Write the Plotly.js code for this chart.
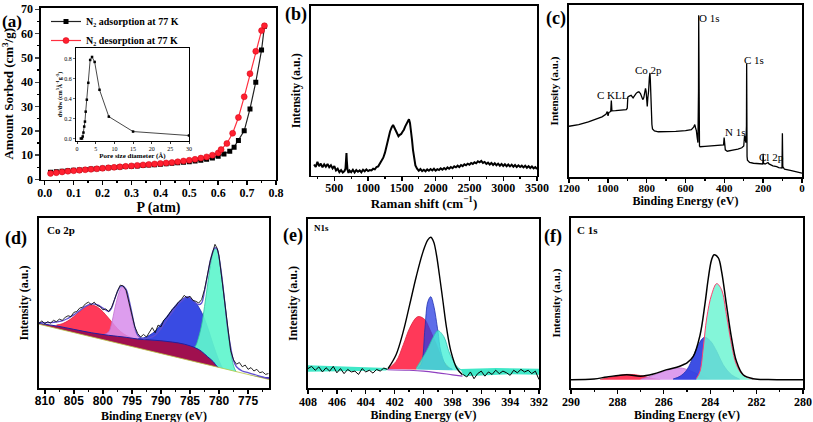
<!DOCTYPE html>
<html><head><meta charset="utf-8">
<script src="https://cdn.plot.ly/plotly-3.0.1.min.js"></script>
<style>html,body{margin:0;padding:0;background:#fff}#chart{width:813px;height:422px}</style>
</head><body><div id="chart"></div>
<script>
// ---------- (a) N2 isotherm ----------
const ads_P = [0.02,0.04,0.06,0.08,0.10,0.12,0.14,0.16,0.18,0.20,0.22,0.24,0.26,0.28,0.30,0.32,0.34,0.36,0.38,0.40,0.42,0.44,0.46,0.48,0.50,0.52,0.54,0.56,0.58,0.60,0.62,0.64,0.655,0.67,0.69,0.71,0.73,0.75,0.76];
const ads_V = [3.0,3.2,3.4,3.6,3.8,3.9,4.1,4.3,4.4,4.6,4.8,4.9,5.1,5.3,5.4,5.6,5.8,6.0,6.1,6.3,6.5,6.7,6.9,7.1,7.3,7.6,7.9,8.3,8.8,9.6,10.5,11.6,13.3,16.0,20.0,29.0,40.0,53.2,63.0];
const des_P = [0.02,0.04,0.06,0.08,0.10,0.12,0.14,0.16,0.18,0.20,0.22,0.24,0.26,0.28,0.30,0.32,0.34,0.36,0.38,0.40,0.42,0.44,0.46,0.48,0.50,0.52,0.54,0.56,0.58,0.60,0.61,0.63,0.65,0.67,0.69,0.71,0.73,0.75,0.76];
const des_V = [2.5,2.8,3.1,3.4,3.6,3.8,4.0,4.2,4.4,4.6,4.8,5.0,5.2,5.4,5.6,5.8,6.0,6.2,6.4,6.6,6.8,7.0,7.3,7.6,7.9,8.3,8.8,9.3,10.0,10.9,12.3,14.8,19.0,25.5,34.0,43.5,52.7,61.2,63.2];
// inset pore size distribution
const pore_d = [1.0,1.3,1.5,1.7,1.9,2.1,2.3,2.6,3.0,3.5,4.0,4.7,6.0,8.5,15.0,30.0];
const pore_v = [0.0,0.0,0.02,0.06,0.12,0.17,0.27,0.39,0.56,0.79,0.82,0.77,0.49,0.22,0.07,0.03];

// ---------- (b) Raman ----------
const raman_x = [200,225,250,275,300,325,350,375,400,425,450,475,500,525,550,575,600,625,650,665,675,680,685,695,710,725,750,775,800,825,850,875,900,925,950,975,1000,1025,1050,1075,1100,1125,1150,1175,1200,1225,1250,1275,1300,1325,1350,1370,1390,1410,1430,1450,1470,1490,1510,1530,1550,1570,1590,1605,1620,1635,1650,1665,1680,1700,1725,1750,1775,1800,1825,1850,1875,1900,1925,1950,1975,2000,2025,2050,2075,2100,2125,2150,2175,2200,2225,2250,2275,2300,2325,2350,2375,2400,2425,2450,2475,2500,2525,2550,2575,2600,2625,2650,2675,2700,2725,2750,2775,2800,2825,2850,2875,2900,2925,2950,2975,3000,3025,3050,3075,3100,3125,3150,3175,3200,3225,3250,3275,3300,3325,3350,3375,3400,3425,3450,3475,3500];
const raman_y = [6.5,5.0,8.0,5.5,7.0,4.8,6.6,5.2,6.8,4.9,6.0,4.2,5.5,3.0,4.0,2.0,3.2,1.8,2.6,4.0,10.0,13.2,9.0,3.5,1.5,3.0,2.0,3.4,1.8,3.2,2.2,3.0,1.9,3.4,2.5,3.6,2.6,3.2,3.0,4.0,3.6,5.0,5.4,7.0,8.2,10.5,13.5,18.0,22.5,26.0,28.5,29.8,28.2,26.5,24.8,23.2,24.0,24.5,25.8,27.0,29.0,30.5,32.0,33.2,31.0,27.0,21.0,15.0,10.0,6.0,4.0,2.8,3.8,2.6,3.4,2.5,3.6,2.8,3.8,3.0,4.0,2.9,3.7,3.2,4.2,3.4,4.4,3.6,4.8,4.0,5.0,4.3,5.4,4.8,5.8,5.0,6.2,5.5,6.6,6.0,7.0,6.4,7.4,6.8,7.8,7.2,8.4,7.8,8.6,7.4,8.0,6.8,7.6,6.5,7.4,6.2,7.2,6.0,7.0,5.8,6.8,5.6,6.6,5.5,6.5,5.4,6.4,5.2,6.2,5.0,6.0,5.0,5.8,4.8,5.8,4.6,5.5,4.4,5.3,4.2,5.0,3.8];

// ---------- (c) XPS survey ----------
const surv_E = [1200,1150,1100,1060,1030,1010,1003,999,995,990,985,982,979,960,930,905,900,897,890,880,870,862,855,848,840,832,826,820,815,810,806,803,800,797,794,790,786,783,781,779,776,773,770,760,740,700,650,600,570,558,552,548,544,540,536,533,532,530,528,525,500,460,420,404,401,399,395,385,370,350,330,310,300,296,292,289,286,285,284,283,281,270,250,220,202,200,198,190,180,175,170,150,130,120,103,101,99,90,60,30,10,0];
const surv_I = [29.5,30.5,32.0,33.5,35.0,36.5,38.0,35.5,37.5,37.8,38.2,44.5,38.5,38.6,38.8,39.2,40.0,46.5,47.0,47.5,46.0,47.8,48.5,49.2,49.5,48.5,46.5,45.0,46.0,49.0,51.5,50.0,44.0,41.0,46.0,50.0,58.0,60.5,56.0,45.0,36.0,30.5,28.0,26.8,26.3,26.2,26.5,27.0,27.5,29.0,30.5,28.5,27.0,23.0,20.0,50.0,94.0,55.0,18.0,17.6,17.8,18.0,18.2,18.6,23.0,18.0,15.8,15.0,15.2,15.8,16.2,17.0,18.0,24.0,22.0,20.0,30.0,66.0,40.0,12.0,9.8,8.5,8.0,7.8,7.6,13.5,8.0,7.5,7.8,8.4,7.6,6.5,6.0,5.5,5.2,25.5,6.0,4.5,3.8,3.0,2.5,2.2];

// ---------- (d) Co 2p ----------
const co_raw_E = [811,810.5,810,809.5,809,808.5,808,807.5,807,806.5,806,805.5,805,804.5,804,803.5,803,802.5,802,801.5,801,800.5,800,799.5,799,798.5,798,797.5,797,796.5,796,795.5,795,794.5,794,793.5,793,792.5,792,791.5,791,790.5,790,789.5,789,788.5,788,787.5,787,786.5,786,785.5,785,784.5,784,783.5,783,782.5,782,781.5,781,780.7,780.3,780,779.5,779,778.5,778,777.5,777,776.5,776,775.5,775,774.5,774,773.5,773,772.5,772,771.5];
const co_raw_I = [38.0,39.5,37.8,39.0,38.2,39.8,39.0,40.5,39.8,41.5,42.5,42.0,44.5,45.0,47.0,47.5,49.5,50.5,49.0,50.5,48.5,48.0,46.0,46.5,45.0,47.5,52.0,57.0,60.5,60.0,57.5,51.0,43.0,36.0,32.0,30.0,31.5,30.0,33.0,35.5,32.5,37.0,36.0,40.0,41.5,44.0,46.5,48.0,50.5,52.0,54.5,53.0,54.0,51.5,51.0,50.0,52.0,58.0,66.5,75.0,81.0,84.5,82.0,77.5,64.0,50.0,36.0,22.0,16.5,14.0,15.0,12.5,13.5,11.0,12.0,10.0,11.0,9.0,9.5,8.0,8.5];
const co_env_E = [811,809,807,806,805,804,803,802,801,800,799,798.5,798,797.5,797,796.6,796,795.5,795,794.5,794,793,792,791,790,789,788,787,786,785.6,785,784.5,784,783.5,783,782.5,782,781.5,781,780.7,780.3,780,779.5,779,778.5,778,777.5,777,776,775,774,773,772,771.4];
const co_env_I = [38.5,38.5,39.5,41,43,45.5,48,49.5,49,47,45,47,52,56.5,59.5,60,58,52,44,36,31,29,29.5,31,35,40,45,49.5,52.5,53.5,53,51.5,50,49,50,57,66,75,81,82.5,81.5,77,65,50,35,24,16,12.5,10,9,8,7,6,5.8];
const co_bg_E = [811,808,805,802,799,796,794,792,790,788,786,784,783,782,781,780.3,779.5,778.5,777,775,773,771.4];
const co_bg_I = [38.0,36.5,34.5,32.5,31.0,29.8,28.8,28.3,27.8,27.0,25.8,23.5,21.5,18.5,15.5,12.5,10.5,9.0,8.0,7.2,6.5,6.0];
const co_lin_E = [811,780.3,771.4];
const co_lin_I = [37.5,12.3,5.0];
const co_p1_E = [808,807,806,805,804,803,802.3,801.5,800.5,799.5,798.5,797.5,796.5,795.5,794.5,793.5];
const co_p1_I = [37,37.8,39.5,42,45,47.5,48.8,48.5,46.5,43,39,35,32,30.2,29,28.6];
const co_p2_E = [800,799,798.5,798,797.5,797,796.7,796.3,795.8,795.3,794.8,794.3,793.5,792.5];
const co_p2_I = [31.2,33,38,46,53,58,59.5,58.5,54,46,38,32.5,29.5,28.4];
const co_p3_E = [794,793,792,791,790,789,788,787,786,785.6,785,784,783,782,781,780,779.3];
const co_p3_I = [28.8,29.5,31,33.5,37.5,42,46.5,50.5,53,53.5,53,50,44.5,36,25.5,16,11];
const co_p4_E = [784.5,784,783.5,783,782.5,782,781.5,781,780.7,780.3,780,779.5,779,778.5,778,777.5,777];
const co_p4_I = [23,25,30,37,48,60,72,80,82,81,76.5,64,49.5,34,21.5,13,9];

// ---------- (e) N 1s ----------
const n_rawL_E = [408,407.75,407.5,407.25,407,406.75,406.5,406.25,406,405.75,405.5,405.25,405,404.75,404.5,404.25,404,403.75,403.5,403.25,403,402.75,402.5];
const n_rawL_I = [11.5,12.8,10.5,12.5,9.5,12.0,10.0,12.8,9.0,11.5,8.5,11.0,9.5,10.0,8.0,11.5,9.5,10.5,8.8,11.0,10.0,11.8,11.0];
const n_rawR_E = [397.25,397,396.75,396.5,396.25,396,395.75,395.5,395.25,395,394.75,394.5,394.25,394,393.75,393.5,393.25,393,392.75,392.5,392.25,392];
const n_rawR_I = [8.0,6.5,9.5,5.5,8.5,10.0,7.0,9.5,8.0,10.5,8.5,10.0,9.0,7.5,10.5,9.0,11.0,9.5,10.5,8.5,10.0,5.0];
const n_bandL_E = [408,405,402.5];
const n_bandL_I = [13.4,12.7,11.8];
const n_bandR_E = [397.4,395,392];
const n_bandR_I = [11.2,11.8,11.4];
const n_low_E = [408,404,402.6,402.4,400,397.4,397.2,394,392];
const n_low_I = [9.6,9.9,10.3,11.3,11.0,10.3,7.0,8.2,7.9];
const n_base_E = [402.5,401,400,399,398,397.3];
const n_base_I = [10.8,10.5,10.0,9.0,7.8,7.0];
const n_p1_E = [402.46,401.9,401.4,400.96,400.5,400.3,399.9,399.6,399.1,398.6,398.2];
const n_p1_I = [11.4,15.7,25.6,35.4,41.7,42.3,40.4,35.4,25.6,15.7,11.8];
const n_p2_E = [400.4,400.15,399.9,399.7,399.5,399.3,399.0,398.8,398.4,398.0];
const n_p2_I = [11.5,14.0,35.4,51.0,54.0,49.0,33.5,21.7,12.8,11.2];
const n_p3_E = [400.5,399.8,399.3,399.0,398.6,398.2,397.7,397.4];
const n_p3_I = [11.8,21.7,30.5,33.9,30.5,20.7,12.8,10.8];
const n_env_E = [402.46,401.9,401.4,400.96,400.5,400.03,399.7,399.5,399.3,399.1,398.9,398.65,398.4,398.1,397.7,397.3];
const n_env_I = [11.4,19.7,33.5,49.2,66.0,80.7,87.6,89.2,86.6,78.7,67.0,51.2,35.4,21.7,11.8,7.9];

// ---------- (f) C 1s ----------
const c_env_E = [290,289,288.45,287.6,287.0,286.45,285.87,285.44,285.16,285.0,284.73,284.44,284.23,284.08,283.94,283.83,283.65,283.51,283.3,283.08,282.87,282.58,282.15,281.5,280];
const c_env_I = [4.9,5.3,6.5,7.8,6.9,8.2,10.8,12.2,13.7,14.8,18.6,31.0,49.0,64.7,75.5,78.4,76.5,68.6,49.0,29.4,15.7,7.8,5.5,5.0,4.9];
const c_p1_E = [288.74,288.17,287.6,287.0,286.45,286.16];
const c_p1_I = [5.0,6.7,8.0,7.3,5.5,5.0];
const c_p2_E = [287.0,286.45,285.87,285.3,284.87,284.44,284.0];
const c_p2_I = [5.1,7.5,10.4,11.8,10.2,7.5,5.1];
const c_p3_E = [285.6,285.3,285.0,284.73,284.51,284.25,284.0,283.72,283.44,283.08,282.72];
const c_p3_I = [5.3,6.9,10.8,18.6,25.5,29.8,27.8,21.6,13.7,7.8,5.1];
const c_p4_E = [284.6,284.44,284.3,284.15,283.94,283.72,283.51,283.3,283.08,282.87,282.58,282.15];
const c_p4_I = [5.5,9.8,23.5,41.2,54.9,61.4,57.8,43.1,25.5,13.7,7.5,5.1];
const c_base_E = [290,280];
const c_base_I = [4.9,4.9];

// ---------- layout helpers (pixel boxes) ----------
const W = 813, H = 422;
const SERIF = 'Liberation Serif', SANS = 'Liberation Sans';
function dx(a,b){return [a/W,b/W];}
function dy(top,bot){return [1-bot/H,1-top/H];}
function xa(box, range, extra){return Object.assign({domain:dx(box[0],box[1]),range:range,showline:true,mirror:true,linecolor:'#000',linewidth:1.6,
  ticks:'outside',ticklen:4,tickwidth:1.4,tickcolor:'#000',showgrid:false,zeroline:false,automargin:false,
  tickfont:{family:SERIF,size:12,color:'#000',weight:'bold'}},extra);}
function ya(box, range, extra){return Object.assign({domain:dy(box[2],box[3]),range:range,showline:true,mirror:true,linecolor:'#000',linewidth:1.6,
  ticks:'',showticklabels:false,showgrid:false,zeroline:false,automargin:false},extra);}
function ttl(t,size,standoff,fam){return {text:t,font:{family:fam||SERIF,size:size,color:'#000',weight:'bold'},standoff:standoff};}

const A=[41,276,8,179.5], B=[311,537,6,175.5], C=[569,802,5,177], D=[39,269,218,388], E=[308,539,219,388], F=[571,803,218,388], IN=[76,189,48,141];

const sp = {shape:'spline',smoothing:1};
const traces = [
 {x:ads_P,y:ads_V,xaxis:'x',yaxis:'y',mode:'lines+markers',name:'N₂ adsorption at 77 K',line:{color:'#222',width:1.2},marker:{symbol:'square',size:5,color:'#000'}},
 {x:des_P,y:des_V,xaxis:'x',yaxis:'y',mode:'lines+markers',name:'N₂ desorption at 77 K',line:{color:'#ff3040',width:1.2},marker:{symbol:'circle',size:6,color:'#ff2030',line:{color:'#d00010',width:0.5}}},
 {x:pore_d,y:pore_v,xaxis:'x7',yaxis:'y7',mode:'lines+markers',showlegend:false,line:{color:'#333',width:0.9},marker:{symbol:'square',size:2.5,color:'#000'}},
 {x:raman_x,y:raman_y,xaxis:'x2',yaxis:'y2',mode:'lines',showlegend:false,line:{color:'#000',width:2}},
 {x:surv_E,y:surv_I,xaxis:'x3',yaxis:'y3',mode:'lines',showlegend:false,line:{color:'#000',width:1.3}},
 // (d)
 {x:co_p1_E,y:co_p1_I,xaxis:'x4',yaxis:'y4',mode:'lines',fill:'tozeroy',fillcolor:'rgba(255,40,75,0.92)',line:Object.assign({color:'#e0203a',width:0.8},sp),showlegend:false},
 {x:co_p2_E,y:co_p2_I,xaxis:'x4',yaxis:'y4',mode:'lines',fill:'tozeroy',fillcolor:'rgba(215,140,235,0.85)',line:Object.assign({color:'#c070d0',width:0.8},sp),showlegend:false},
 {x:co_p3_E,y:co_p3_I,xaxis:'x4',yaxis:'y4',mode:'lines',fill:'tozeroy',fillcolor:'rgba(40,60,225,0.92)',line:Object.assign({color:'#2030b0',width:0.8},sp),showlegend:false},
 {x:co_p4_E,y:co_p4_I,xaxis:'x4',yaxis:'y4',mode:'lines',fill:'tozeroy',fillcolor:'rgba(95,245,205,0.92)',line:Object.assign({color:'#30c0a0',width:0.8},sp),showlegend:false},
 {x:co_bg_E,y:co_bg_I,xaxis:'x4',yaxis:'y4',mode:'lines',fill:'tozeroy',fillcolor:'#a0104f',line:Object.assign({color:'#2020a0',width:1},sp),showlegend:false},
 {x:co_lin_E,y:co_lin_I,xaxis:'x4',yaxis:'y4',mode:'lines',fill:'tozeroy',fillcolor:'#ffffff',line:{color:'#b8c840',width:0.8},showlegend:false},
 {x:co_env_E,y:co_env_I,xaxis:'x4',yaxis:'y4',mode:'lines',line:Object.assign({color:'#6050d0',width:1.3},sp),showlegend:false},
 {x:co_raw_E,y:co_raw_I,xaxis:'x4',yaxis:'y4',mode:'lines',line:{color:'#111',width:0.9},showlegend:false},
 // (e)
 {x:n_bandL_E,y:n_bandL_I,xaxis:'x5',yaxis:'y5',mode:'lines',fill:'tozeroy',fillcolor:'#40e8c8',line:{width:0},showlegend:false},
 {x:n_bandR_E,y:n_bandR_I,xaxis:'x5',yaxis:'y5',mode:'lines',fill:'tozeroy',fillcolor:'#40e8c8',line:{width:0},showlegend:false},
 {x:n_p1_E,y:n_p1_I,xaxis:'x5',yaxis:'y5',mode:'lines',fill:'tozeroy',fillcolor:'rgba(255,40,75,0.92)',line:Object.assign({color:'#e0203a',width:0.8},sp),showlegend:false},
 {x:n_p2_E,y:n_p2_I,xaxis:'x5',yaxis:'y5',mode:'lines',fill:'tozeroy',fillcolor:'rgba(40,60,225,0.75)',line:Object.assign({color:'#2030b0',width:0.8},sp),showlegend:false},
 {x:n_p3_E,y:n_p3_I,xaxis:'x5',yaxis:'y5',mode:'lines',fill:'tozeroy',fillcolor:'rgba(70,240,215,0.8)',line:Object.assign({color:'#30c0b0',width:0.8},sp),showlegend:false},
 {x:n_low_E,y:n_low_I,xaxis:'x5',yaxis:'y5',mode:'lines',fill:'tozeroy',fillcolor:'#ffffff',line:{width:0},showlegend:false},
 {x:n_base_E,y:n_base_I,xaxis:'x5',yaxis:'y5',mode:'lines',line:Object.assign({color:'#9040c0',width:1.2},sp),showlegend:false},
 {x:n_env_E,y:n_env_I,xaxis:'x5',yaxis:'y5',mode:'lines',line:Object.assign({color:'#000',width:1.4},sp),showlegend:false},
 {x:n_rawL_E,y:n_rawL_I,xaxis:'x5',yaxis:'y5',mode:'lines',line:{color:'#000',width:1},showlegend:false},
 {x:n_rawR_E,y:n_rawR_I,xaxis:'x5',yaxis:'y5',mode:'lines',line:{color:'#000',width:1},showlegend:false},
 // (f)
 {x:c_p1_E,y:c_p1_I,xaxis:'x6',yaxis:'y6',mode:'lines',fill:'tozeroy',fillcolor:'rgba(255,40,75,0.92)',line:Object.assign({color:'#e0203a',width:0.8},sp),showlegend:false},
 {x:c_p2_E,y:c_p2_I,xaxis:'x6',yaxis:'y6',mode:'lines',fill:'tozeroy',fillcolor:'rgba(215,140,235,0.85)',line:Object.assign({color:'#c070d0',width:0.8},sp),showlegend:false},
 {x:c_p3_E,y:c_p3_I,xaxis:'x6',yaxis:'y6',mode:'lines',fill:'tozeroy',fillcolor:'rgba(40,60,225,0.9)',line:Object.assign({color:'#2030b0',width:0.8},sp),showlegend:false},
 {x:c_p4_E,y:c_p4_I,xaxis:'x6',yaxis:'y6',mode:'lines',fill:'tozeroy',fillcolor:'rgba(110,245,210,0.85)',line:Object.assign({color:'#ff4070',width:1},sp),showlegend:false},
 {x:c_base_E,y:c_base_I,xaxis:'x6',yaxis:'y6',mode:'lines',fill:'tozeroy',fillcolor:'#ffffff',line:{width:0},showlegend:false},
 {x:c_env_E,y:c_env_I,xaxis:'x6',yaxis:'y6',mode:'lines',line:Object.assign({color:'#000',width:1.5},sp),showlegend:false}
];

function ann(t,x,y,size,extra,wt){return Object.assign({text:t,xref:'paper',yref:'paper',x:x/W,y:1-y/H,showarrow:false,xanchor:'center',yanchor:'middle',
  font:{family:SERIF,size:size,color:'#000',weight:wt||'normal'}},extra||{});}
const bold = (s,fam)=>({family:fam||SERIF,size:s,color:'#000',weight:'bold'});

const layout = {
  width:W,height:H,margin:{l:0,r:0,t:0,b:0},paper_bgcolor:'#fff',plot_bgcolor:'rgba(0,0,0,0)',
  showlegend:true,
  legend:{x:46/W,y:1-7/H,xanchor:'left',yanchor:'top',bgcolor:'rgba(0,0,0,0)',font:bold(10),itemwidth:30,tracegroupgap:0},
  xaxis: xa(A,[-0.013,0.8],{anchor:'y',dtick:0.1,tick0:0,tickformat:'.1f',ticklabelstandoff:-3,minor:{ticks:'outside',ticklen:2,dtick:0.05,tickcolor:'#000'},title:ttl('P (atm)',14,0)}),
  yaxis: ya(A,[0,70.5],{anchor:'x',ticks:'outside',ticklen:4,tickwidth:1.4,showticklabels:true,dtick:10,tickfont:bold(12),minor:{ticks:'outside',ticklen:2,dtick:5,tickcolor:'#000'},title:ttl('Amount Sorbed (cm<sup>3</sup>/g)',13,4)}),
  xaxis2: xa(B,[155,3500],{anchor:'y2',dtick:500,tick0:0,ticklabelstandoff:-4,minor:{ticks:'outside',ticklen:2,dtick:250,tickcolor:'#000'},title:ttl('Raman shift (cm<sup>−1</sup>)',13,0)}),
  yaxis2: ya(B,[0,100],{anchor:'x2',title:ttl('Intensity (a.u.)',12,6)}),
  xaxis3: xa(C,[1200,0],{anchor:'y3',dtick:200,tick0:0,ticklabelstandoff:-4,tickfont:bold(11),minor:{ticks:'outside',ticklen:2,dtick:100,tickcolor:'#000'},title:ttl('Binding Energy (eV)',12,0)}),
  yaxis3: ya(C,[0,100],{anchor:'x3',title:ttl('Intensity (a.u.)',11,6)}),
  xaxis4: xa(D,[811,771.4],{anchor:'y4',dtick:5,tick0:0,ticklabelstandoff:-3,tickfont:bold(12,SANS),minor:{ticks:'outside',ticklen:2,dtick:2.5,tickcolor:'#000'}}),
  yaxis4: ya(D,[0,100],{anchor:'x4',title:ttl('Intensity (a.u.)',12,6)}),
  xaxis5: xa(E,[408,392],{anchor:'y5',dtick:2,tick0:0,ticklabelstandoff:-2,minor:{ticks:'outside',ticklen:2,dtick:1,tickcolor:'#000'},title:ttl('Binding Energy (eV)',12,1)}),
  yaxis5: ya(E,[0,100],{anchor:'x5',title:ttl('Intensity (a.u.)',12,6)}),
  xaxis6: xa(F,[290,280],{anchor:'y6',dtick:2,tick0:0,ticklabelstandoff:-2,minor:{ticks:'outside',ticklen:2,dtick:1,tickcolor:'#000'},title:ttl('Binding Energy (eV)',12,3)}),
  yaxis6: ya(F,[0,100],{anchor:'x6',title:ttl('Intensity (a.u.)',11,6)}),
  xaxis7: xa(IN,[-0.3,30],{anchor:'y7',dtick:5,tick0:0,linewidth:1,ticklen:2,tickwidth:0.8,tickfont:{family:SERIF,size:6,color:'#000'},title:ttl('Pore size diameter (Å)',7,0)}),
  yaxis7: ya(IN,[-0.025,0.91],{anchor:'x7',linewidth:1,ticks:'outside',ticklen:2,tickwidth:0.8,showticklabels:true,dtick:0.2,tickformat:'.1f',tickfont:{family:SERIF,size:6,color:'#000'},title:ttl('dv/dw (cm<sup>3</sup>Å<sup>-1</sup>g<sup>-1</sup>)',6,1)}),
  annotations:[
    ann('Binding Energy (eV)',154,415.5,12,{},'bold'),
    ann('(a)',12,22,17,{},'bold'), ann('(b)',296,15,18,{},'bold'), ann('(c)',556,18,18,{},'bold'),
    ann('(d)',16,238,18,{},'bold'), ann('(e)',293,235,18,{},'bold'), ann('(f)',553,236,18,{},'bold'),
    ann('Co 2p',45,230,11,{xanchor:'left'},'bold'), ann('N1s',312,228,9,{xanchor:'left'},'bold'), ann('C 1s',575,230,11,{xanchor:'left'},'bold'),
    ann('O 1s',697,18,11,{xanchor:'left'}), ann('C 1s',742,60,11,{xanchor:'left'}), ann('Co 2p',648,70,11),
    ann('C KLL',613,95,11), ann('N 1s',723,132,11,{xanchor:'left'}), ann('Cl 2p',757,157,11,{xanchor:'left'})
  ]
};
Plotly.newPlot('chart',traces,layout,{displayModeBar:false,staticPlot:true});
</script></body></html>
